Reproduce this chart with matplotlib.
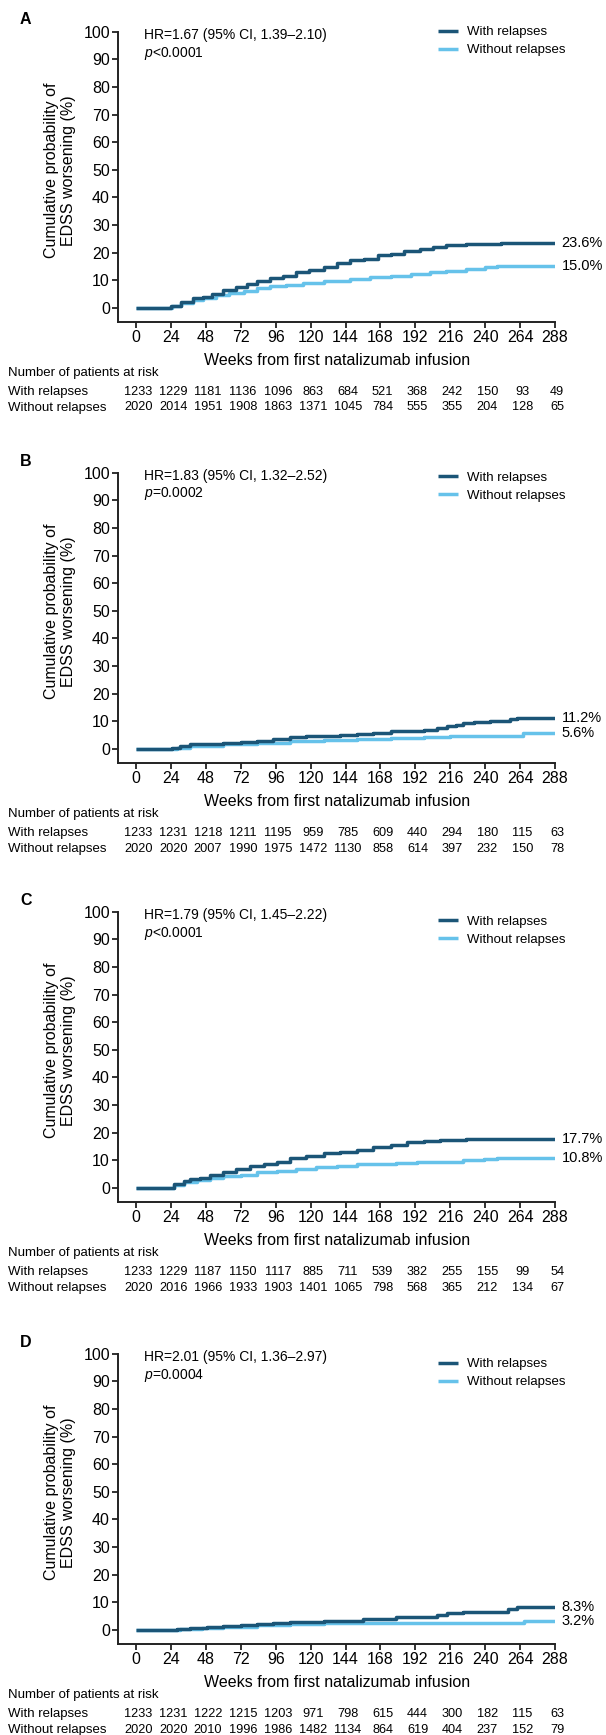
import matplotlib
matplotlib.use('Agg')
import matplotlib.pyplot as plt
from matplotlib.transforms import blended_transform_factory

plt.rcParams['font.family'] = ['Liberation Sans', 'DejaVu Sans']
plt.rcParams['mathtext.fontset'] = 'custom'
plt.rcParams['mathtext.rm'] = 'Liberation Sans'
plt.rcParams['mathtext.it'] = 'Liberation Sans:italic'

# ---------------- data ----------------
week_ticks = [0, 24, 48, 72, 96, 120, 144, 168, 192, 216, 240, 264, 288]
pct_ticks = [0, 10, 20, 30, 40, 50, 60, 70, 80, 90, 100]
panel_labels = ['A', 'B', 'C', 'D']
series_names = ['With relapses', 'Without relapses']
hr_texts = ['HR=1.67 (95% CI, 1.39\u20132.10)', 'HR=1.83 (95% CI, 1.32\u20132.52)',
            'HR=1.79 (95% CI, 1.45\u20132.22)', 'HR=2.01 (95% CI, 1.36\u20132.97)']
p_texts = ['$p$<0.0001', '$p$=0.0002', '$p$<0.0001', '$p$=0.0004']
end_with = [23.6, 11.2, 17.7, 8.3]
end_without = [15.0, 5.6, 10.8, 3.2]

a_with_wk = [0, 18, 24, 31, 39, 46, 52, 60, 69, 76, 83, 92, 101, 110, 119, 129, 138, 147, 157, 166, 175, 184, 195, 204, 213, 227, 251, 288]
a_with_pct = [0, 0, 0.8, 2.1, 3.5, 4.1, 5.1, 6.5, 7.5, 8.5, 9.9, 10.9, 11.7, 12.9, 13.8, 14.8, 16.2, 17.2, 17.8, 19.0, 19.6, 20.6, 21.2, 22.0, 22.6, 23.0, 23.6, 23.6]
a_wo_wk = [0, 20, 25, 31, 39, 46, 55, 64, 74, 83, 92, 103, 115, 129, 147, 161, 175, 189, 202, 213, 227, 240, 248, 288]
a_wo_pct = [0, 0, 0.6, 1.7, 2.9, 3.5, 4.5, 5.3, 6.0, 7.3, 7.9, 8.3, 9.1, 9.6, 10.3, 11.1, 11.6, 12.3, 12.9, 13.4, 14.1, 14.8, 15.0, 15.0]

b_with_wk = [0, 20, 25, 30, 37, 60, 72, 83, 94, 106, 117, 129, 140, 152, 163, 175, 186, 198, 207, 214, 220, 225, 232, 243, 257, 262, 288]
b_with_pct = [0, 0, 0.5, 1.0, 1.6, 2.0, 2.4, 3.0, 3.5, 4.2, 4.5, 4.8, 5.1, 5.4, 5.9, 6.3, 6.5, 6.9, 7.5, 8.4, 8.7, 9.4, 9.8, 10.0, 10.8, 11.2, 11.2]
b_wo_wk = [0, 20, 28, 37, 60, 83, 106, 129, 152, 175, 198, 216, 232, 266, 288]
b_wo_pct = [0, 0, 0.5, 1.0, 1.6, 2.2, 2.8, 3.3, 3.5, 3.9, 4.2, 4.6, 4.8, 5.6, 5.6]

c_with_wk = [0, 19, 26, 33, 37, 44, 51, 60, 69, 78, 88, 97, 106, 117, 129, 140, 152, 163, 175, 186, 198, 209, 227, 288]
c_with_pct = [0, 0, 1.4, 2.6, 3.2, 3.6, 4.6, 5.8, 6.8, 8.0, 8.8, 9.4, 11.0, 11.5, 12.5, 13.0, 13.7, 14.9, 15.7, 16.7, 17.1, 17.5, 17.7, 17.7]
c_wo_wk = [0, 19, 26, 33, 42, 51, 60, 72, 83, 97, 110, 124, 138, 152, 165, 179, 193, 209, 225, 239, 248, 288]
c_wo_pct = [0, 0, 1.0, 2.0, 2.9, 3.6, 4.4, 4.8, 5.6, 6.2, 6.8, 7.5, 8.0, 8.5, 8.8, 9.0, 9.2, 9.5, 10.0, 10.6, 10.8, 10.8]

d_with_wk = [0, 19, 28, 37, 49, 60, 72, 83, 94, 106, 129, 147, 156, 168, 179, 193, 207, 214, 225, 256, 262, 288]
d_with_pct = [0, 0, 0.4, 0.8, 1.1, 1.3, 1.7, 2.2, 2.5, 2.9, 3.1, 3.3, 3.9, 4.1, 4.5, 4.8, 5.3, 6.0, 6.6, 7.5, 8.3, 8.3]
d_wo_wk = [0, 19, 30, 45, 60, 83, 106, 129, 152, 175, 267, 288]
d_wo_pct = [0, 0, 0.4, 0.8, 1.1, 1.8, 2.3, 2.4, 2.5, 2.6, 3.2, 3.2]

a_risk_with = [1233, 1229, 1181, 1136, 1096, 863, 684, 521, 368, 242, 150, 93, 49]
a_risk_wo = [2020, 2014, 1951, 1908, 1863, 1371, 1045, 784, 555, 355, 204, 128, 65]
b_risk_with = [1233, 1231, 1218, 1211, 1195, 959, 785, 609, 440, 294, 180, 115, 63]
b_risk_wo = [2020, 2020, 2007, 1990, 1975, 1472, 1130, 858, 614, 397, 232, 150, 78]
c_risk_with = [1233, 1229, 1187, 1150, 1117, 885, 711, 539, 382, 255, 155, 99, 54]
c_risk_wo = [2020, 2016, 1966, 1933, 1903, 1401, 1065, 798, 568, 365, 212, 134, 67]
d_risk_with = [1233, 1231, 1222, 1215, 1203, 971, 798, 615, 444, 300, 182, 115, 63]
d_risk_wo = [2020, 2020, 2010, 1996, 1986, 1482, 1134, 864, 619, 404, 237, 152, 79]

curves = [
    (a_with_wk, a_with_pct, a_wo_wk, a_wo_pct),
    (b_with_wk, b_with_pct, b_wo_wk, b_wo_pct),
    (c_with_wk, c_with_pct, c_wo_wk, c_wo_pct),
    (d_with_wk, d_with_pct, d_wo_wk, d_wo_pct),
]
risks = [(a_risk_with, a_risk_wo), (b_risk_with, b_risk_wo),
         (c_risk_with, c_risk_wo), (d_risk_with, d_risk_wo)]

# ---------------- layout / style ----------------
W, H = 606, 1735
DPI = 100
DARK = '#1b5577'
LIGHT = '#66c2ea'
offsets = [0, 441, 880, 1322]
legend_rows = [33.5, 38, 43, 43.5]

fig = plt.figure(figsize=(W / DPI, H / DPI), dpi=DPI)


def fx(px):
    return px / W


def fy(py):
    return 1 - py / H


ax_left, ax_right = 118.3, 555.0
ax_top, ax_bot = 31.7, 321.7

for i in range(4):
    o = offsets[i]
    ax = fig.add_axes([fx(ax_left), fy(ax_bot + o), (ax_right - ax_left) / W, (ax_bot - ax_top) / H])
    ww, wp, nw, npct = curves[i]
    l2, = ax.plot(nw, npct, drawstyle='steps-post', color=LIGHT, lw=2.5, solid_capstyle='butt')
    l1, = ax.plot(ww, wp, drawstyle='steps-post', color=DARK, lw=2.5, solid_capstyle='butt')
    ax.set_xlim(-12.2, 288)
    ax.set_ylim(-5, 100)
    ax.set_xticks(week_ticks)
    ax.set_yticks(pct_ticks)
    ax.tick_params(labelsize=11.5, length=4, width=1.3, pad=2, color='#222222')
    for s in ['top', 'right']:
        ax.spines[s].set_visible(False)
    for s in ['left', 'bottom']:
        ax.spines[s].set_linewidth(1.4)
        ax.spines[s].set_color('#222222')
    ax.set_xlabel('Weeks from first natalizumab infusion', fontsize=11.5, labelpad=6)
    ax.set_ylabel('Cumulative probability of\nEDSS worsening (%)', fontsize=11.5)
    ax.yaxis.set_label_coords((60 - ax_left) / (ax_right - ax_left), (ax_bot - 170.5) / (ax_bot - ax_top))
    ax.yaxis.label.set_va('center')

    # end labels
    ax.text(292.5, end_with[i], f'{end_with[i]:.1f}%', fontsize=10.5, va='center', ha='left', clip_on=False)
    ax.text(292.5, end_without[i], f'{end_without[i]:.1f}%', fontsize=10.5, va='center', ha='left', clip_on=False)

    # HR / p text
    fig.text(fx(144), fy(35 + o), hr_texts[i], fontsize=10, va='center', ha='left')
    fig.text(fx(144), fy(53 + o), p_texts[i], fontsize=10, va='center', ha='left')

    # panel label
    fig.text(fx(20), fy(20 + o), panel_labels[i], fontsize=11.5, fontweight='bold', va='center', ha='left')

    # legend
    ax.legend([l1, l2], series_names, loc='upper left',
              bbox_to_anchor=(fx(438), fy(legend_rows[i] + o - 7.5)), bbox_transform=fig.transFigure,
              frameon=False, fontsize=9.5, borderpad=0, borderaxespad=0,
              handlelength=1.5, handletextpad=0.7, labelspacing=0.45)

    # risk table
    fig.text(fx(8), fy(373 + o), 'Number of patients at risk', fontsize=9.5, va='center', ha='left')
    fig.text(fx(8), fy(392 + o), series_names[0], fontsize=9.5, va='center', ha='left')
    fig.text(fx(8), fy(407.5 + o), series_names[1], fontsize=9.5, va='center', ha='left')
    tr = blended_transform_factory(ax.transData, fig.transFigure)
    rw, rn = risks[i]
    for k, wk in enumerate(week_ticks):
        ax.text(wk + 1.5, fy(392 + o), str(rw[k]), transform=tr, fontsize=9.2, ha='center', va='center', clip_on=False)
        ax.text(wk + 1.5, fy(407.5 + o), str(rn[k]), transform=tr, fontsize=9.2, ha='center', va='center', clip_on=False)

fig.savefig('out.png', dpi=DPI)
